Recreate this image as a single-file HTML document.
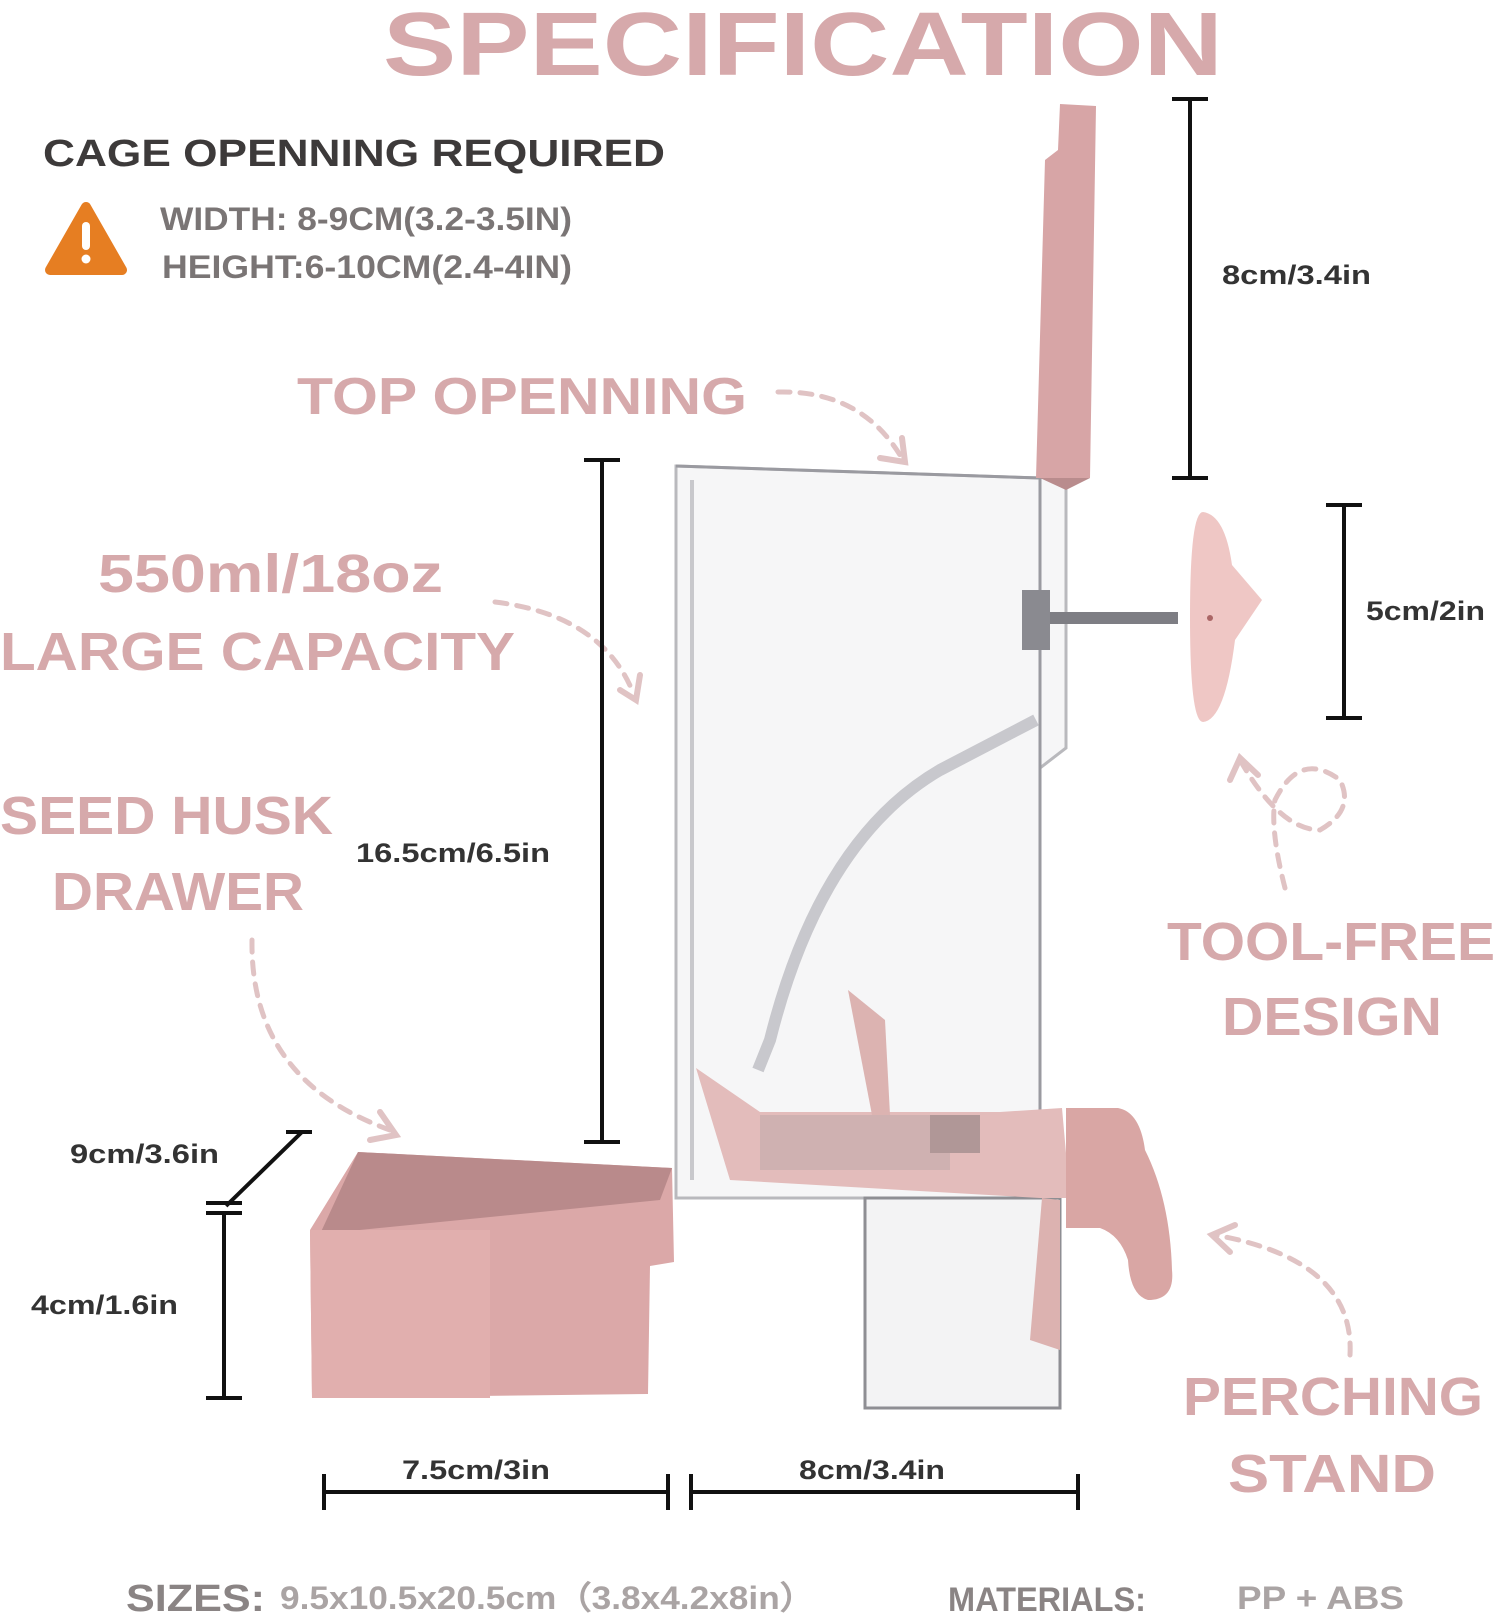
<!DOCTYPE html>
<html><head><meta charset="utf-8"><style>
body{margin:0;background:#fff}
svg{display:block}
.t{font-family:"Liberation Sans",sans-serif;font-weight:bold}
</style></head><body>
<svg width="1500" height="1619" viewBox="0 0 1500 1619" xmlns="http://www.w3.org/2000/svg">
<rect width="1500" height="1619" fill="#fff"/>
<text class="t" x="803" y="75" font-size="90" fill="#d6a9ab" text-anchor="middle" textLength="840" lengthAdjust="spacingAndGlyphs">SPECIFICATION</text>
<text class="t" x="43" y="166" font-size="38" fill="#3d3a3a" textLength="622" lengthAdjust="spacingAndGlyphs">CAGE OPENNING REQUIRED</text>
<path d="M86 207 L122 270 L50 270 Z" fill="#e67e22" stroke="#e67e22" stroke-width="10" stroke-linejoin="round"/>
<rect x="82" y="222" width="8" height="28" rx="4" fill="#fff"/><circle cx="86" cy="259" r="4.5" fill="#fff"/>
<text class="t" x="160" y="230" font-size="32" fill="#7a7575" textLength="412" lengthAdjust="spacingAndGlyphs">WIDTH: 8-9CM(3.2-3.5IN)</text>
<text class="t" x="162" y="278" font-size="32" fill="#7a7575" textLength="410" lengthAdjust="spacingAndGlyphs">HEIGHT:6-10CM(2.4-4IN)</text>
<g class="t" fill="#d6a9ab">
<text x="297" y="414" font-size="52" textLength="450" lengthAdjust="spacingAndGlyphs">TOP OPENNING</text>
<text x="98" y="592" font-size="54" textLength="345" lengthAdjust="spacingAndGlyphs">550ml/18oz</text>
<text x="0" y="670" font-size="54" textLength="515" lengthAdjust="spacingAndGlyphs">LARGE CAPACITY</text>
<text x="0" y="834" font-size="54" textLength="333" lengthAdjust="spacingAndGlyphs">SEED HUSK</text>
<text x="52" y="910" font-size="54" textLength="252" lengthAdjust="spacingAndGlyphs">DRAWER</text>
<text x="1167" y="960" font-size="54" textLength="328" lengthAdjust="spacingAndGlyphs">TOOL-FREE</text>
<text x="1222" y="1035" font-size="54" textLength="220" lengthAdjust="spacingAndGlyphs">DESIGN</text>
<text x="1183" y="1415" font-size="54" textLength="300" lengthAdjust="spacingAndGlyphs">PERCHING</text>
<text x="1228" y="1492" font-size="54" textLength="208" lengthAdjust="spacingAndGlyphs">STAND</text>
</g>
<g fill="none" stroke="#e0c3c4" stroke-width="5" stroke-dasharray="12 10" stroke-linecap="round">
<path d="M778 392 Q860 390 900 455"/>
<path d="M495 602 Q600 615 632 690"/>
<path d="M252 940 Q250 1080 390 1130"/>
<path d="M1285 888 Q1270 830 1275 800 Q1300 750 1340 780 Q1355 810 1320 830 Q1280 830 1240 760"/>
<path d="M1350 1355 Q1355 1260 1215 1235"/>
</g>
<g fill="none" stroke="#e0c3c4" stroke-width="6" stroke-linecap="round">
<path d="M880 458 L905 462 L902 438"/>
<path d="M620 690 L636 700 L640 675"/>
<path d="M380 1112 L396 1135 L370 1140"/>
<path d="M1230 780 L1240 758 L1258 775"/>
<path d="M1235 1225 L1212 1235 L1230 1252"/>
</g>
<g stroke="#111" stroke-width="4">
<line x1="1190" y1="99" x2="1190" y2="478"/><line x1="1172" y1="99" x2="1208" y2="99"/><line x1="1172" y1="478" x2="1208" y2="478"/>
<line x1="1344" y1="505" x2="1344" y2="718"/><line x1="1326" y1="505" x2="1362" y2="505"/><line x1="1326" y1="718" x2="1362" y2="718"/>
<line x1="602" y1="460" x2="602" y2="1142"/><line x1="584" y1="460" x2="620" y2="460"/><line x1="584" y1="1142" x2="620" y2="1142"/>
<line x1="224" y1="1213" x2="224" y2="1398"/><line x1="206" y1="1213" x2="242" y2="1213"/><line x1="206" y1="1398" x2="242" y2="1398"/>
<line x1="206" y1="1203" x2="242" y2="1203"/>
<line x1="226" y1="1206" x2="302" y2="1132"/><line x1="286" y1="1132" x2="312" y2="1132"/>
<line x1="324" y1="1492" x2="668" y2="1492"/><line x1="324" y1="1474" x2="324" y2="1510"/><line x1="668" y1="1474" x2="668" y2="1510"/>
<line x1="691" y1="1492" x2="1078" y2="1492"/><line x1="691" y1="1474" x2="691" y2="1510"/><line x1="1078" y1="1474" x2="1078" y2="1510"/>
</g>
<g class="t" font-size="27" fill="#333">
<text x="1222" y="284" textLength="149" lengthAdjust="spacingAndGlyphs">8cm/3.4in</text>
<text x="1366" y="620" textLength="119" lengthAdjust="spacingAndGlyphs">5cm/2in</text>
<text x="356" y="862" textLength="194" lengthAdjust="spacingAndGlyphs">16.5cm/6.5in</text>
<text x="70" y="1163" textLength="149" lengthAdjust="spacingAndGlyphs">9cm/3.6in</text>
<text x="31" y="1314" textLength="147" lengthAdjust="spacingAndGlyphs">4cm/1.6in</text>
<text x="402" y="1479" textLength="148" lengthAdjust="spacingAndGlyphs">7.5cm/3in</text>
<text x="799" y="1479" textLength="146" lengthAdjust="spacingAndGlyphs">8cm/3.4in</text>
</g>
<path d="M676 466 L1040 478 L1066 470 L1066 748 L1040 768 L1040 1198 L676 1198 Z" fill="#f6f6f7" stroke="#b9b9bd" stroke-width="3"/>
<path d="M676 466 L1040 478 L1040 1198" fill="none" stroke="#9a9aa0" stroke-width="3"/>
<line x1="692" y1="480" x2="692" y2="1180" stroke="#c8c8cc" stroke-width="4"/>
<path d="M1036 720 L940 770 Q820 840 770 1040 L758 1070" fill="none" stroke="#c8c8cd" stroke-width="12"/>
<path d="M865 1198 L1060 1198 L1060 1408 L865 1408 Z" fill="#f3f3f4" stroke="#8e8e93" stroke-width="3"/>
<path d="M696 1068 L760 1112 L1000 1112 L1062 1108 L1070 1198 L1040 1198 L730 1180 Z" fill="#e3bcbb"/>
<rect x="760" y="1115" width="190" height="55" fill="#cfb1b1"/>
<rect x="930" y="1115" width="50" height="38" fill="#b09797"/>
<path d="M848 990 L885 1020 L890 1115 L872 1115 Z" fill="#dcb3b1"/>
<path d="M1042 1198 L1060 1200 L1060 1350 L1030 1340 Z" fill="#dcb2b0"/>
<path d="M1066 1108 L1118 1108 Q1140 1112 1145 1150 Q1170 1200 1172 1270 Q1175 1300 1148 1300 Q1130 1295 1128 1260 Q1120 1235 1100 1228 L1066 1228 Z" fill="#d9a6a4"/>
<path d="M1060 104 L1096 106 L1090 478 L1036 478 L1045 160 L1058 150 Z" fill="#d7a5a6"/>
<path d="M1040 478 L1090 478 L1066 490 Z" fill="#b98c8d"/>
<rect x="1022" y="590" width="28" height="60" fill="#8a8a90"/>
<rect x="1050" y="612" width="128" height="12" fill="#7e7e84"/>
<path d="M1203 512 Q1225 515 1232 565 L1262 600 L1235 640 Q1225 720 1203 722 Q1190 722 1190 617 Q1190 512 1203 512 Z" fill="#efc7c5"/>
<circle cx="1210" cy="618" r="3" fill="#a66"/>
<path d="M310 1230 L358 1152 L672 1168 L674 1262 L650 1266 L648 1394 L312 1398 Z" fill="#dba8a8"/>
<path d="M358 1152 L672 1168 L660 1200 L320 1234 Z" fill="#b98a8b"/>
<path d="M360 1230 L490 1230 L490 1398 L312 1398 L310 1230 Z" fill="#e1afae"/>
<text class="t" x="126" y="1611" font-size="38" fill="#8a8484" textLength="139" lengthAdjust="spacingAndGlyphs">SIZES:</text>
<text class="t" x="280" y="1609" font-size="32" fill="#aaa4a4" textLength="535" lengthAdjust="spacingAndGlyphs">9.5x10.5x20.5cm（3.8x4.2x8in）</text>
<text class="t" x="948" y="1611" font-size="34" fill="#8a8484" textLength="198" lengthAdjust="spacingAndGlyphs">MATERIALS:</text>
<text class="t" x="1237" y="1609" font-size="32" fill="#aaa4a4" textLength="167" lengthAdjust="spacingAndGlyphs">PP + ABS</text>
</svg>
</body></html>
